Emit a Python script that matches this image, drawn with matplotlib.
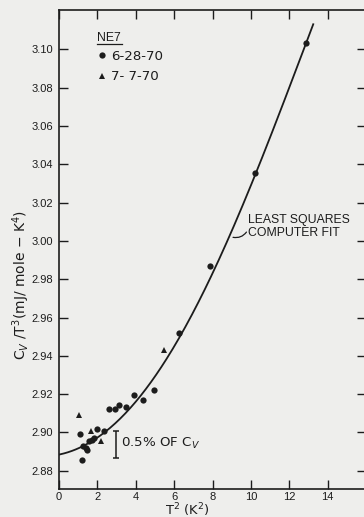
import matplotlib
matplotlib.use("Agg")
import numpy as np
import matplotlib.pyplot as plt

# measured points, run 6-28-70 (circles) and 7-7-70 (triangles)
circle_t2 = [1.09, 1.21, 1.27, 1.39, 1.47, 1.56, 1.70, 1.82, 1.96, 2.36,
             2.61, 2.92, 3.14, 3.51, 3.91, 4.39, 4.93, 6.27, 7.88, 10.20, 12.87]
circle_cv = [2.8991, 2.8854, 2.8930, 2.8917, 2.8908, 2.8953, 2.8962, 2.8971, 2.9020, 2.9010,
             2.9122, 2.9122, 2.9141, 2.9132, 2.9196, 2.9167, 2.9223, 2.9518, 2.9869, 3.0353, 3.1034]
tri_t2 = [1.04, 1.65, 2.17, 5.47]
tri_cv = [2.9089, 2.9009, 2.8958, 2.9431]

# least squares fit curve
fit_t2 = [0.0, 1.0, 2.0, 3.0, 4.0, 5.0, 6.0, 7.0, 8.0, 9.0, 10.0, 11.0, 12.0, 13.0, 13.25]
fit_cv = [2.8885, 2.8915, 2.8975, 2.9055, 2.9160, 2.9290, 2.9450, 2.9630, 2.9830,
          3.0050, 3.0290, 3.0540, 3.0800, 3.1065, 3.1130]

# 0.5% of Cv scale bar
bar_t2 = 2.97
bar_cv = 2.8938
bar_half = 0.0072

xticks = [0, 2, 4, 6, 8, 10, 12, 14]
yticks = [2.88, 2.90, 2.92, 2.94, 2.96, 2.98, 3.00, 3.02, 3.04, 3.06, 3.08, 3.10]

ink = "#1c1c1c"
paper = "#eeeeec"
plt.rcParams["font.family"] = ["Liberation Sans", "DejaVu Sans"]
wide = ["DejaVu Sans"]

fig = plt.figure(figsize=(3.64, 5.17), dpi=100, facecolor=paper)
ax = fig.add_axes([59 / 364, 1 - 489 / 517, 307 / 364, 479 / 517])
ax.set_facecolor(paper)

# smooth line through the read-off fit points (least squares, like the original)
coef = np.polyfit(fit_t2, fit_cv, 4)
xs = np.linspace(fit_t2[0], fit_t2[-1], 200)
ax.plot(xs, np.polyval(coef, xs), color=ink, lw=1.3, zorder=2)

ax.plot(circle_t2, circle_cv, "o", color=ink, ms=4.5, mew=0, zorder=3, label="6-28-70")
ax.plot(tri_t2, tri_cv, "^", color=ink, ms=4.5, mew=0, zorder=3, label="7- 7-70")

ax.errorbar([bar_t2], [bar_cv], yerr=bar_half, fmt="none", ecolor=ink,
            elinewidth=1.1, capsize=2.5, capthick=1.1)
ax.text(bar_t2 + 0.27, bar_cv + 0.0004, "0.5% OF C$_V$", fontsize=9.6,
        family=wide, color=ink, ha="left", va="center")

ax.text(9.85, 3.0074, "LEAST SQUARES\nCOMPUTER FIT", fontsize=8.8, color=ink,
        ha="left", va="center", linespacing=1.05)
ax.annotate("", xy=(8.93, 3.0022), xytext=(9.85, 3.0058),
            arrowprops=dict(arrowstyle="-", color=ink, lw=0.9,
                            connectionstyle="arc3,rad=-0.4"))

leg = ax.legend(loc="upper left", bbox_to_anchor=(0.124, 0.917), frameon=False,
                prop={"family": wide, "size": 9.6}, borderpad=0, handlelength=0.75,
                handletextpad=0.3, labelspacing=0.56, borderaxespad=0)
for t in leg.get_texts():
    t.set_color(ink)
ax.text(0.124, 0.9415, "NE7", transform=ax.transAxes, fontsize=8.8, color=ink,
        ha="left", va="center")
ax.plot([0.124, 0.205], [0.929, 0.929], transform=ax.transAxes, color=ink, lw=0.9)

ax.set_xlim(0, 16)
ax.set_ylim(2.8705, 3.1205)
ax.set_xticks(xticks)
ax.set_xticklabels([str(v) for v in xticks])
ax.set_yticks(yticks)
ax.set_yticklabels(["%.2f" % v for v in yticks])
ax.tick_params(direction="in", length=6.5, width=1.0, color=ink, labelcolor=ink,
               labelsize=8, top=True, right=True, pad=4.5)
ax.tick_params(axis="x", pad=2.5)
for s in ax.spines.values():
    s.set_color(ink)
    s.set_linewidth(1.2)

ax.set_xlabel("T$^2$ (K$^2$)", fontsize=9.4, family=wide, color=ink, va="center")
ax.xaxis.set_label_coords(0.418, -0.045)
ax.set_ylabel("C$_V$ /T$^3$(mJ/ mole $-$ K$^4$)", fontsize=10, family=wide,
              color=ink, va="center")
ax.yaxis.set_label_coords(-0.124, 0.426)

fig.savefig("out.png", dpi=100, facecolor=paper)
